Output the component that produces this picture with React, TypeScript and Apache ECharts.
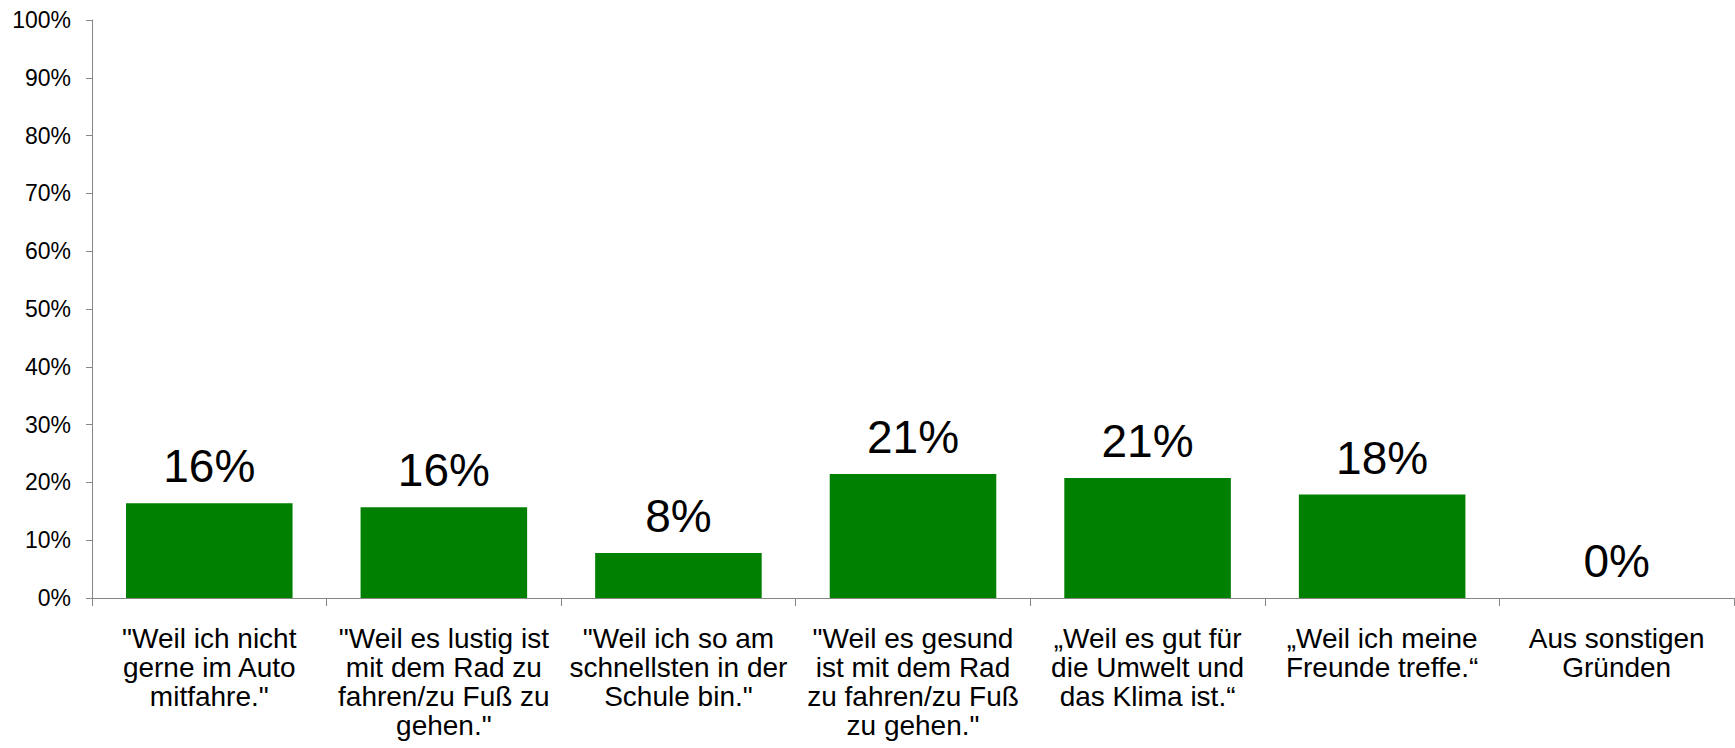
import React, { useEffect, useRef } from "react";
import * as echarts from "echarts";

const categories: string[] = [
  "\"Weil ich nicht\ngerne im Auto\nmitfahre.\"",
  "\"Weil es lustig ist\nmit dem Rad zu\nfahren/zu Fuß zu\ngehen.\"",
  "\"Weil ich so am\nschnellsten in der\nSchule bin.\"",
  "\"Weil es gesund\nist mit dem Rad\nzu fahren/zu Fuß\nzu gehen.\"",
  "„Weil es gut für\ndie Umwelt und\ndas Klima ist.“",
  "„Weil ich meine\nFreunde treffe.“",
  "Aus sonstigen\nGründen",
];

const values: number[] = [16.4, 15.7, 7.8, 21.45, 20.75, 17.9, 0];

const yTicks = { min: 0, max: 100, interval: 10 };

const FONT = "Liberation Sans, Arial, Helvetica, sans-serif";

export default function App() {
  const ref = useRef<HTMLDivElement>(null);

  useEffect(() => {
    document.body.style.margin = "0";
    if (!ref.current) return;
    const chart = echarts.init(ref.current, undefined, { renderer: "svg" });
    chart.setOption({
      animation: false,
      backgroundColor: "#ffffff",
      grid: { left: 92, right: 1, top: 20, bottom: 150, containLabel: false },
      xAxis: {
        type: "category",
        data: categories,
        axisLine: { show: true, lineStyle: { color: "#868686", width: 1 } },
        axisTick: { show: true, length: 8, lineStyle: { color: "#868686" } },
        axisLabel: {
          interval: 0,
          margin: 26,
          fontSize: 28,
          lineHeight: 29,
          color: "#000000",
          fontFamily: FONT,
          align: "center",
        },
        splitLine: { show: false },
      },
      yAxis: {
        type: "value",
        min: yTicks.min,
        max: yTicks.max,
        interval: yTicks.interval,
        axisLine: { show: true, lineStyle: { color: "#868686", width: 1 } },
        axisTick: { show: true, length: 6, lineStyle: { color: "#868686" } },
        axisLabel: {
          margin: 21,
          fontSize: 23,
          color: "#000000",
          fontFamily: FONT,
          formatter: (v: number) => `${v}%`,
        },
        splitLine: { show: false },
      },
      series: [
        {
          type: "bar",
          data: values,
          barWidth: "71%",
          itemStyle: { color: "#008000" },
          label: {
            show: true,
            position: "top",
            distance: 14,
            fontSize: 46,
            color: "#000000",
            fontFamily: FONT,
            formatter: (p: any) => `${Math.round(p.value)}%`,
          },
        },
      ],
    });
    return () => chart.dispose();
  }, []);

  return <div ref={ref} style={{ width: 1735, height: 748 }} />;
}
